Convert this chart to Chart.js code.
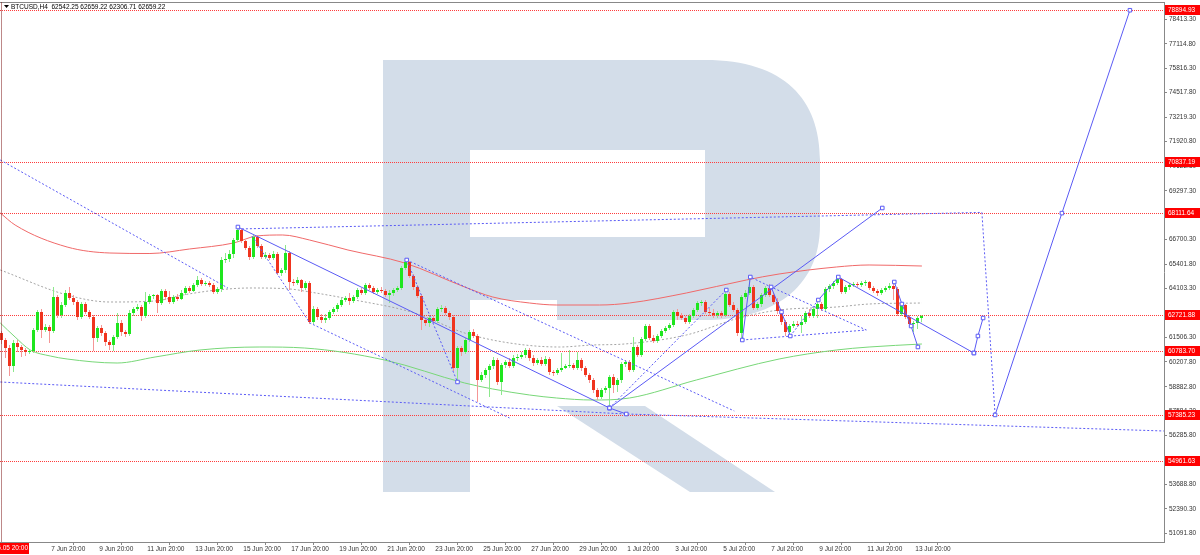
<!DOCTYPE html>
<html>
<head>
<meta charset="utf-8">
<script src="https://cdn.jsdelivr.net/npm/chart.js@4.4.1/dist/chart.umd.min.js"></script>
<style>
  html, body { margin: 0; padding: 0; background: #fff; }
  canvas { display: block; }
</style>
</head>
<body>
<canvas id="chart" width="1200" height="555"></canvas>
<script>
const symbol = 'BTCUSD,H4';
const firstBarTime = '2024.06.05 20:00';

// H4 candles, index 0 = 5 Jun 20:00
const opens = [
  61740, 61368, 60943, 59986, 61209, 60996, 60836, 60730, 60783, 61899,
  62856, 61899, 62059, 61846, 63653, 62697, 63228, 63866, 63600, 63388,
  62590, 63281, 62856, 62590, 61474, 62006, 61740, 61262, 61102, 61527,
  62272, 61793, 61687, 62803, 63016, 63122, 62644, 63388, 63707, 63760,
  63335, 63972, 63653, 63388, 63653, 63547, 63866, 64132, 63972, 64291,
  64557, 64344, 64398, 64291, 63919, 64079, 65620, 65673, 65939, 66683,
  67215, 66630, 66258, 65779, 66843, 66364, 65779, 65886, 65726, 65939,
  64929, 65089, 65992, 64451, 64398, 64557, 64132, 64398, 62325, 63016,
  62590, 62431, 62537, 62856, 63016, 63228, 63494, 63600, 63441, 63653,
  64025, 63866, 64291, 64132, 63919, 64025, 63972, 63760, 63866, 64025,
  64132, 65195, 65514, 64770, 64185, 63707, 62431, 62272, 62537, 62378,
  63016, 63069, 62803, 62590, 59880, 60943, 60730, 61368, 61793, 61581,
  59242, 59508, 59773, 59986, 60305, 59136, 60039, 60199, 59986, 60411,
  60464, 60571, 60836, 60411, 60146, 60305, 60092, 60358, 59667, 59614,
  59773, 59880, 59986, 60039, 59880, 60305, 59880, 59508, 59242, 58710,
  58338, 58710, 58817, 59401, 58976, 59242, 60092, 60199, 59773, 60996,
  60571, 61421, 62112, 61474, 61315, 61581, 61846, 62006, 62165, 62856,
  62644, 62537, 62325, 62644, 62962, 63335, 63388, 62856, 62803, 62697,
  62803, 62697, 63813, 63228, 62962, 61740, 63653, 63866, 64185, 63069,
  63281, 63760, 64132, 63760, 63388, 62909, 62325, 61793, 62112, 62218,
  62165, 62325, 62803, 62644, 63016, 63281, 63016, 64079, 64238, 64398,
  64610, 63919, 64185, 64291, 64344, 64291, 64398, 64451, 64132, 63972,
  63866, 64025, 64132, 64238, 64079, 62750, 63228, 62590, 62218, 62272,
  62542.25
];
const highs = [
  61846, 61474, 61102, 61368, 61368, 61102, 60943, 60890, 62006, 62962,
  63016, 62218, 62165, 64185, 63760, 63388, 64025, 64185, 63760, 63494,
  63388, 63388, 62962, 62697, 62112, 62165, 61846, 61368, 61634, 62803,
  62431, 61899, 62962, 63122, 63281, 63228, 63919, 63813, 63813, 63813,
  64079, 64079, 63972, 63760, 63813, 64025, 64238, 64238, 64398, 64770,
  64663, 64504, 64504, 64398, 64185, 65779, 65992, 66152, 66789, 67374,
  67268, 66683, 66364, 66949, 66949, 66470, 66045, 65992, 66098, 66045,
  65195, 66417, 66098, 64610, 64716, 64610, 64504, 64504, 63175, 63122,
  62750, 62750, 62962, 63122, 63335, 63600, 63707, 63866, 63760, 64132,
  64132, 64398, 64398, 64238, 64132, 64185, 64079, 64025, 64132, 64238,
  65301, 65620, 65567, 64876, 64291, 63813, 62537, 62697, 62644, 63122,
  63228, 63175, 62909, 62697, 61049, 61049, 61474, 61899, 61953, 61687,
  59667, 59880, 60092, 60464, 60411, 60146, 60305, 60411, 60571, 60624,
  60730, 60943, 60943, 60571, 60411, 60464, 60518, 60464, 59773, 59880,
  60677, 60092, 60836, 60146, 60730, 60411, 59986, 59614, 59348, 58817,
  58817, 58923, 59508, 59561, 59348, 60199, 60305, 60305, 61527, 61102,
  61527, 62218, 62218, 61634, 61687, 61953, 62112, 62272, 62962, 63016,
  62803, 62644, 62750, 63069, 63441, 63494, 63494, 63069, 63016, 62909,
  62909, 63919, 63919, 63388, 63069, 63760, 64025, 64716, 64291, 63388,
  63866, 64238, 64344, 63866, 63600, 63016, 62431, 62218, 62378, 62378,
  62644, 62909, 63016, 63122, 63494, 63388, 64185, 64344, 64504, 64716,
  64663, 64291, 64398, 64451, 64451, 64504, 64557, 64504, 64238, 64079,
  64132, 64238, 64398, 64451, 64185, 63335, 63281, 62697, 62378, 62644,
  62659.22
];
const lows = [
  61155, 60411, 59455, 59667, 60730, 60464, 60518, 60624, 60677, 61793,
  61474, 61793, 61209, 61740, 62537, 62537, 63122, 63494, 63228, 62431,
  62484, 62750, 62484, 60783, 61262, 61581, 61049, 60836, 60783, 61421,
  61581, 61527, 61581, 62644, 62909, 62378, 62537, 63281, 63547, 62803,
  63228, 63494, 63281, 63281, 63441, 63494, 63760, 63866, 63919, 64185,
  64238, 64238, 64185, 63813, 63813, 63919, 65461, 65514, 65726, 66577,
  66524, 66152, 65620, 65673, 66258, 65673, 65673, 65620, 65620, 64823,
  64770, 64929, 64025, 64238, 64291, 63919, 64025, 62218, 62218, 62431,
  62272, 62272, 62431, 62750, 62856, 63122, 63388, 63228, 63335, 63547,
  63760, 63760, 64025, 63813, 63813, 63866, 63653, 63335, 63707, 63919,
  64025, 65089, 64663, 64025, 63600, 61899, 62112, 62059, 62272, 62272,
  62856, 62697, 62431, 59720, 59136, 60518, 60624, 61262, 61474, 58073,
  59136, 59348, 58338, 59827, 58976, 58445, 59880, 59880, 59880, 60252,
  60358, 60411, 60252, 59986, 60039, 59986, 59986, 59508, 59455, 59508,
  59667, 59827, 59880, 59773, 59773, 59720, 59401, 59083, 58551, 58179,
  58232, 58551, 57754, 58551, 58604, 59083, 59933, 59667, 59667, 60464,
  60464, 61315, 61368, 61209, 61209, 61474, 61740, 61899, 62059, 62431,
  62431, 62218, 62218, 62537, 62856, 63175, 62750, 62644, 62537, 62537,
  62537, 62590, 63122, 62856, 61581, 61368, 63547, 63760, 62962, 62962,
  63122, 63653, 63653, 63281, 62750, 62165, 61581, 61527, 62006, 62059,
  61740, 62218, 62537, 62537, 62537, 62909, 62909, 63919, 64079, 64291,
  63813, 63813, 64025, 64185, 64185, 64185, 64238, 64025, 63866, 63707,
  63760, 63919, 64025, 63494, 62644, 62644, 62484, 62112, 61793, 61953,
  62306.71
];
const closes = [
  61368, 60943, 59986, 61209, 60996, 60836, 60730, 60783, 61899, 62856,
  61899, 62059, 61846, 63653, 62697, 63228, 63866, 63600, 63388, 62590,
  63281, 62856, 62590, 61474, 62006, 61740, 61262, 61102, 61527, 62272,
  61793, 61687, 62803, 63016, 63122, 62644, 63388, 63707, 63760, 63335,
  63972, 63653, 63388, 63653, 63547, 63866, 64132, 63972, 64291, 64557,
  64344, 64398, 64291, 63919, 64079, 65620, 65673, 65939, 66683, 67215,
  66630, 66258, 65779, 66843, 66364, 65779, 65886, 65726, 65939, 64929,
  65089, 65992, 64451, 64398, 64557, 64132, 64398, 62325, 63016, 62590,
  62431, 62537, 62856, 63016, 63228, 63494, 63600, 63441, 63653, 64025,
  63866, 64291, 64132, 63919, 64025, 63972, 63760, 63866, 64025, 64132,
  65195, 65514, 64770, 64185, 63707, 62431, 62272, 62537, 62378, 63016,
  63069, 62803, 62590, 59880, 60943, 60730, 61368, 61793, 61581, 59242,
  59508, 59773, 59986, 60305, 59136, 60039, 60199, 59986, 60411, 60464,
  60571, 60836, 60411, 60146, 60305, 60092, 60358, 59667, 59614, 59773,
  59880, 59986, 60039, 59880, 60305, 59880, 59508, 59242, 58710, 58338,
  58710, 58817, 59401, 58976, 59242, 60092, 60199, 59773, 60996, 60571,
  61421, 62112, 61474, 61315, 61581, 61846, 62006, 62165, 62856, 62644,
  62537, 62325, 62644, 62962, 63335, 63388, 62856, 62803, 62697, 62803,
  62697, 63813, 63228, 62962, 61740, 63653, 63866, 64185, 63069, 63281,
  63760, 64132, 63760, 63388, 62909, 62325, 61793, 62112, 62218, 62165,
  62325, 62803, 62644, 63016, 63281, 63016, 64079, 64238, 64398, 64610,
  63919, 64185, 64291, 64344, 64291, 64398, 64451, 64132, 63972, 63866,
  64025, 64132, 64238, 64079, 62750, 63228, 62590, 62218, 62272, 62537,
  62659.22
];

// moving averages, sampled at bar index
const redMaAt = [-0.3, 3.4, 16.4, 27.1, 37.1, 47, 58, 63.8, 70.3, 77, 86.6, 100.8, 115.8, 122.8, 132, 138.8, 149.5, 157, 171.2, 186.2, 194.4, 208.7, 216.9, 230.1];
const redMaValues = [68118, 67480, 66311, 65992, 65965, 66205, 66524, 66896, 66949, 66683, 66152, 65461, 64185, 63654, 63335, 63228, 63228, 63335, 63866, 64557, 64876, 65248, 65355, 65301];
const greenMaAt = [-0.3, 3.4, 7.2, 12.2, 16.4, 28.9, 38.4, 49.6, 64.6, 75.8, 95.8, 115.8, 122.8, 132, 138.8, 147.7, 157, 173.7, 194.4, 208.7, 216.9, 230.1];
const greenMaValues = [62271, 61527, 60836, 60517, 60358, 60145, 60464, 60836, 60996, 60942, 60304, 59082, 58764, 58445, 58285, 58179, 58285, 59242, 60358, 60836, 60996, 61155];
const grayMaAt = [-0.3, 16.4, 27.1, 38.4, 45.4, 53.9, 62.1, 72.1, 77.1, 88.3, 103.3, 115.8, 127, 139.5, 147.7, 155.7, 171.2, 184.4, 194.4, 208.7, 216.9, 230.1];
const grayMaValues = [65089, 63760, 63388, 63441, 63760, 64025, 64132, 64079, 63919, 63494, 62803, 61740, 61209, 60996, 61102, 61155, 61634, 62537, 62962, 63122, 63281, 63335];

// analysis lines: [bar index, price]
const waveDown = [[59.1, 67374], [152, 57754], [156.2, 57435]];
const waveUp = [[152, 57754], [220.2, 68384]];
const waveJul5 = [[185.2, 61368], [187.2, 64716]];
const waveJul7 = [[192.4, 64185], [195.0, 62856], [197.2, 61581]];
const waveJul9 = [[204.2, 63494], [209.2, 64716], [243.1, 60677]];
const waveJul13 = [[223.2, 64451], [225.1, 63281], [227.4, 62112], [229.1, 60996]];
const forecastHook = [[243.1, 60677], [244.1, 61581], [245.4, 62537]];
const forecastRally = [[248.4, 57385.23], [265.1, 68111.64], [282.1, 78894.93]];

const dotLeft = [[-0.3, 70935], [56.6, 64132]];
const dotTop = [[59.1, 67268], [245.1, 68150]];
const dotJun16 = [[62.6, 66896], [77.1, 62272], [127, 57223]];
const dotJun22a = [[101.3, 65620], [114, 59136]];
const dotJun22b = [[101.3, 65620], [183.2, 57594]];
const dotBottom = [[-0.3, 59136], [156.2, 57435], [290.6, 56532]];
const dotJul1 = [[152, 57754], [181.2, 64025]];
const dotTriangle = [[185.2, 61368], [216.2, 61899], [192.4, 64185], [187.2, 64716]];
const dotJul9 = [[197.2, 61581], [204.2, 63494]];
const dotForecast = [[245.1, 68150], [248.4, 57385.23]];

const levels = [78894.93, 70837.19, 68111.64, 62721.88, 60783.70, 57385.23, 54961.63];

const xTickIndex = [12, 24, 36, 48, 60, 72, 84, 96, 108, 120, 132, 144, 156, 168, 180, 192, 204, 216, 228];
const xTickLabels = ['7 Jun 20:00', '9 Jun 20:00', '11 Jun 20:00', '13 Jun 20:00', '15 Jun 20:00', '17 Jun 20:00',
  '19 Jun 20:00', '21 Jun 20:00', '23 Jun 20:00', '25 Jun 20:00', '27 Jun 20:00', '29 Jun 20:00',
  '1 Jul 20:00', '3 Jul 20:00', '5 Jul 20:00', '7 Jul 20:00', '9 Jul 20:00', '11 Jul 20:00', '13 Jul 20:00'];
const yTickValues = [78413.30, 77114.80, 75816.30, 74517.80, 73219.30, 71920.80, 70622.30, 69297.30, 67998.80,
  66700.30, 65401.80, 64103.30, 62804.80, 61506.30, 60207.80, 58882.80, 57584.30, 56285.80, 54987.30,
  53688.80, 52390.30, 51091.80];

const FONT = 'Liberation Sans';
const blue = 'rgb(90,90,245)';

const isUp = closes.map((c, i) => c >= opens[i]);

function toPoints(list) {
  return list.map(p => ({ x: p[0], y: p[1] }));
}

function solidLine(list) {
  return {
    type: 'line', data: toPoints(list), borderColor: blue, borderWidth: 1,
    pointStyle: 'rect', pointRadius: 2.5, pointBorderWidth: 1,
    pointBorderColor: blue, pointBackgroundColor: '#fff', tension: 0, order: 1
  };
}

function dottedLine(list, marks) {
  return {
    type: 'line', data: toPoints(list), borderColor: blue, borderWidth: 1, borderDash: [2, 2],
    pointStyle: 'rect', pointRadius: marks ? 2.5 : 0, pointBorderWidth: 1,
    pointBorderColor: blue, pointBackgroundColor: '#fff', tension: 0, order: 2
  };
}

function maLine(at, values, color, dash) {
  return {
    type: 'line', data: at.map((x, i) => ({ x, y: values[i] })), borderColor: color,
    borderWidth: 1, borderDash: dash || [], pointRadius: 0,
    cubicInterpolationMode: 'monotone', order: 6
  };
}

// logo and price levels behind the candles
const watermark = {
  id: 'watermark',
  beforeDatasetsDraw(chart) {
    const ctx = chart.ctx;
    ctx.save();
    ctx.fillStyle = 'rgb(211,221,233)';
    ctx.beginPath();
    ctx.moveTo(383, 60);
    ctx.lineTo(705, 60);
    ctx.bezierCurveTo(785, 60, 820, 100, 820, 160);
    ctx.lineTo(820, 225);
    ctx.bezierCurveTo(820, 290, 770, 320, 705, 320);
    ctx.lineTo(557, 320);
    ctx.lineTo(557, 300);
    ctx.lineTo(470, 300);
    ctx.lineTo(470, 492);
    ctx.lineTo(383, 492);
    ctx.closePath();
    ctx.fill();
    ctx.beginPath();
    ctx.moveTo(557, 406);
    ctx.lineTo(645, 406);
    ctx.lineTo(775, 492);
    ctx.lineTo(690, 492);
    ctx.closePath();
    ctx.fill();
    ctx.fillStyle = '#fff';
    ctx.fillRect(470, 150, 235, 87);

    const y = chart.scales.y;
    const area = chart.chartArea;
    ctx.strokeStyle = '#ff3c3c';
    ctx.lineWidth = 1;
    ctx.setLineDash([1, 1]);
    levels.forEach(v => {
      const py = Math.round(y.getPixelForValue(v)) + 0.5;
      ctx.beginPath();
      ctx.moveTo(area.left, py);
      ctx.lineTo(area.right, py);
      ctx.stroke();
    });
    ctx.restore();
  }
};

const overlay = {
  id: 'overlay',
  afterDraw(chart) {
    const ctx = chart.ctx;
    const area = chart.chartArea;
    const y = chart.scales.y;
    ctx.save();

    ctx.strokeStyle = '#888';
    ctx.lineWidth = 1;
    ctx.beginPath();
    ctx.moveTo(area.left, 2.5);
    ctx.lineTo(area.right, 2.5);
    ctx.stroke();
    ctx.strokeStyle = '#7a1010';
    ctx.setLineDash([1, 1]);
    ctx.beginPath();
    ctx.moveTo(1.5, area.top);
    ctx.lineTo(1.5, area.bottom);
    ctx.stroke();
    ctx.setLineDash([]);

    ctx.font = '6.5px "' + FONT + '"';
    ctx.textBaseline = 'middle';
    ctx.textAlign = 'left';
    levels.forEach(v => {
      const py = Math.round(y.getPixelForValue(v));
      ctx.fillStyle = '#ff0000';
      ctx.fillRect(area.right + 1, py - 5, 36, 10);
      ctx.fillStyle = '#fff';
      ctx.fillText(v.toFixed(2), area.right + 4, py + 0.5);
    });

    const last = closes.length - 1;
    ctx.fillStyle = '#000';
    ctx.beginPath();
    ctx.moveTo(4, 5);
    ctx.lineTo(9, 5);
    ctx.lineTo(6.5, 8);
    ctx.closePath();
    ctx.fill();
    ctx.fillText(symbol + '  ' + [opens[last], highs[last], lows[last], closes[last]].map(v => v.toFixed(2)).join(' '), 11, 7);

    ctx.beginPath();
    ctx.rect(0, area.bottom + 1, 29, 11);
    ctx.fillStyle = '#ff0000';
    ctx.fill();
    ctx.clip();
    ctx.fillStyle = '#fff';
    ctx.textAlign = 'right';
    ctx.fillText(firstBarTime, 28, area.bottom + 6.5);
    ctx.restore();
  }
};

new Chart(document.getElementById('chart'), {
  type: 'bar',
  data: {
    datasets: [
      {
        data: lows.map((l, i) => ({ x: i, y: [l, highs[i]] })),
        backgroundColor: isUp.map(u => u ? 'rgb(140,232,140)' : 'rgb(245,150,150)'),
        barThickness: 1, grouped: false, borderWidth: 0, inflateAmount: 0, order: 5
      },
      {
        data: opens.map((o, i) => ({ x: i, y: [o, closes[i]] })),
        backgroundColor: isUp.map(u => u ? 'rgb(30,230,30)' : 'rgb(240,52,30)'),
        barThickness: 3, grouped: false, borderWidth: 0, inflateAmount: 0, order: 4
      },
      maLine(redMaAt, redMaValues, 'rgb(240,105,105)'),
      maLine(greenMaAt, greenMaValues, 'rgb(120,215,120)'),
      maLine(grayMaAt, grayMaValues, 'rgb(165,165,165)', [2, 2]),
      solidLine(waveDown),
      solidLine(waveUp),
      solidLine(waveJul5),
      solidLine(waveJul7),
      solidLine(waveJul9),
      solidLine(waveJul13),
      solidLine(forecastHook),
      solidLine(forecastRally),
      dottedLine(dotLeft),
      dottedLine(dotTop),
      dottedLine(dotJun16),
      dottedLine(dotJun22a, true),
      dottedLine(dotJun22b),
      dottedLine(dotBottom),
      dottedLine(dotJul1, true),
      dottedLine(dotTriangle),
      dottedLine(dotJul9),
      dottedLine(dotForecast)
    ]
  },
  options: {
    responsive: false,
    animation: false,
    devicePixelRatio: 1,
    events: [],
    layout: { padding: { top: 2.5, left: 0, right: 0, bottom: 0 }, autoPadding: false },
    plugins: { legend: { display: false }, tooltip: { enabled: false } },
    scales: {
      x: {
        type: 'linear', min: -0.375, max: 290.625, offset: false,
        grid: { display: true, drawOnChartArea: false, drawTicks: true, tickLength: 3, color: '#888' },
        border: { display: true, color: '#888' },
        ticks: {
          autoSkip: false, maxRotation: 0, align: 'start', padding: 0,
          color: '#333', font: { family: FONT, size: 6.5 },
          callback: (v, i) => ' ' + xTickLabels[i]
        },
        afterBuildTicks: s => { s.ticks = xTickIndex.map(v => ({ value: v })); },
        afterFit: s => { s.height = 13; s.paddingLeft = 0; s.paddingRight = 0; }
      },
      y: {
        position: 'right', min: 50632, max: 79306,
        grid: { display: true, drawOnChartArea: false, drawTicks: true, tickLength: 3, color: '#888' },
        border: { display: true, color: '#888' },
        ticks: {
          autoSkip: false, padding: 2, color: '#333', font: { family: FONT, size: 6.5 },
          callback: v => v.toFixed(2)
        },
        afterBuildTicks: s => { s.ticks = yTickValues.map(v => ({ value: v })); },
        afterFit: s => { s.width = 36; s.paddingTop = 0; s.paddingBottom = 0; }
      }
    }
  },
  plugins: [watermark, overlay]
});
</script>
</body>
</html>
